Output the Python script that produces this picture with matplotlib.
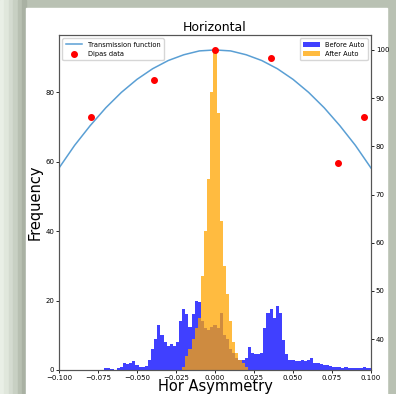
"""
Horizontal asymmetry: before/after auto histogram + transmission function
"""

import numpy as np
import matplotlib.pyplot as plt
from matplotlib.patches import Rectangle

# ── data ──────────────────────────────────────────
BIN_W = 0.002

# Before Auto: bin centers and counts
blue_centers = [round(-0.070 + i * BIN_W, 3) for i in range(86)]
blue_counts = [0.7, 0.7, 0.3, 0, 0.5, 1, 2, 1.7, 2, 2.5,
               1.5, 1, 1, 1.2, 3, 6, 9, 13, 10, 8,
               7, 7.5, 7, 8, 14, 17.5, 16, 12.5, 16, 20,
               19.5, 14, 12, 11.5, 12.5, 13, 12, 16.5, 10, 9,
               6, 5, 3.5, 3, 3, 3.5, 6.5, 5, 4.5, 4.5,
               5, 12, 16.5, 17.5, 15, 18.5, 16.5, 8.5, 4.7, 3,
               3, 2.5, 2.5, 3, 2.5, 3, 3.5, 2, 2, 1.7,
               1.5, 1.5, 1.2, 1, 1, 1, 0.7, 1, 0.7, 0.7,
               0.7, 0.7, 0.7, 1, 0.7, 0.7]

# After Auto
orange_centers = [round(-0.020 + i * BIN_W, 3) for i in range(21)]
orange_counts = [1, 4, 6, 9, 12, 15, 27, 40, 55, 80,
                 92, 74, 43, 30, 22, 14, 8, 5, 3, 2, 1]

# Transmission function
tf_x = [-0.10, -0.09, -0.08, -0.07, -0.06, -0.05, -0.04, -0.03, -0.02, -0.01, 0.0,
        0.01, 0.02, 0.03, 0.04, 0.05, 0.06, 0.07, 0.08, 0.09, 0.10]
tf_y = [75.5, 80.2, 84.3, 88.0, 91.2, 93.9, 96.1, 97.8, 99.0, 99.8, 100.0,
        99.8, 99.0, 97.8, 96.1, 93.9, 91.2, 88.0, 84.3, 80.2, 75.5]

# Dipas data
dipas_x = [-0.0795, -0.039, 0.0, 0.036, 0.0787, 0.0955]
dipas_y = [86.1, 93.8, 100.0, 98.4, 76.5, 86.1]

XLIM = (-0.1, 0.1)
XTICKS = [-0.100, -0.075, -0.050, -0.025, 0.000, 0.025, 0.050, 0.075, 0.100]


def edges(centers):
    c = np.asarray(centers)
    return np.append(c - BIN_W / 2, c[-1] + BIN_W / 2)


# ── figure ────────────────────────────────────────
fig = plt.figure(figsize=(3.96, 3.94), dpi=100)
fig.patch.set_facecolor("#b9c1b3")

# screenshot frame: light left fade, white page
for i, col in enumerate(["#e9efe6", "#e0e7dc", "#d4dbd0", "#c8d0c3", "#b8c0b2", "#a9b1a3"]):
    fig.add_artist(Rectangle((i * 4.4 / 396, 0), 4.4 / 396, 1,
                             transform=fig.transFigure, color=col, zorder=0))
fig.add_artist(Rectangle((26 / 396, 0), (387 - 26) / 396, (394 - 8) / 394,
                         transform=fig.transFigure, color="white", zorder=0))

ax = fig.add_axes([59 / 396, 24 / 394, 312 / 396, 335 / 394])
ax.hist(blue_centers, bins=edges(blue_centers), weights=blue_counts,
        color="blue", alpha=0.75, label="Before Auto")
ax.hist(orange_centers, bins=edges(orange_centers), weights=orange_counts,
        color="orange", alpha=0.75, label="After Auto")
ax.set_xlim(*XLIM)
ax.set_ylim(0, 96.5)
ax.set_xticks(XTICKS)
ax.set_yticks([0, 20, 40, 60, 80])
ax.tick_params(labelsize=5, length=2, width=0.6, pad=1.5)
ax.set_xlabel("Hor Asymmetry", fontsize=10.5, labelpad=-1)
ax.set_ylabel("Frequency", fontsize=10.5, labelpad=2)
ax.set_title("Horizontal", fontsize=9, pad=3)
ax.legend(loc="upper right", fontsize=4.8, framealpha=0.8,
          handlelength=2.5, borderpad=0.5)

ax2 = ax.twinx()
ax2.plot(tf_x, tf_y, color="#5a9fd4", linewidth=1.1, label="Transmission function")
ax2.scatter(dipas_x, dipas_y, color="red", s=16, zorder=3, label="Dipas data")
ax2.set_ylim(33.6, 103.1)
ax2.set_yticks([40, 50, 60, 70, 80, 90, 100])
ax2.tick_params(labelsize=5, length=2, width=0.6, pad=1.5)
ax2.legend(loc="upper left", fontsize=4.8, framealpha=0.8,
           handlelength=2.5, borderpad=0.5)

for a in (ax, ax2):
    for s in a.spines.values():
        s.set_edgecolor("#555555")
        s.set_linewidth(0.8)

plt.savefig("out.png", dpi=100, facecolor=fig.get_facecolor())
plt.close()
